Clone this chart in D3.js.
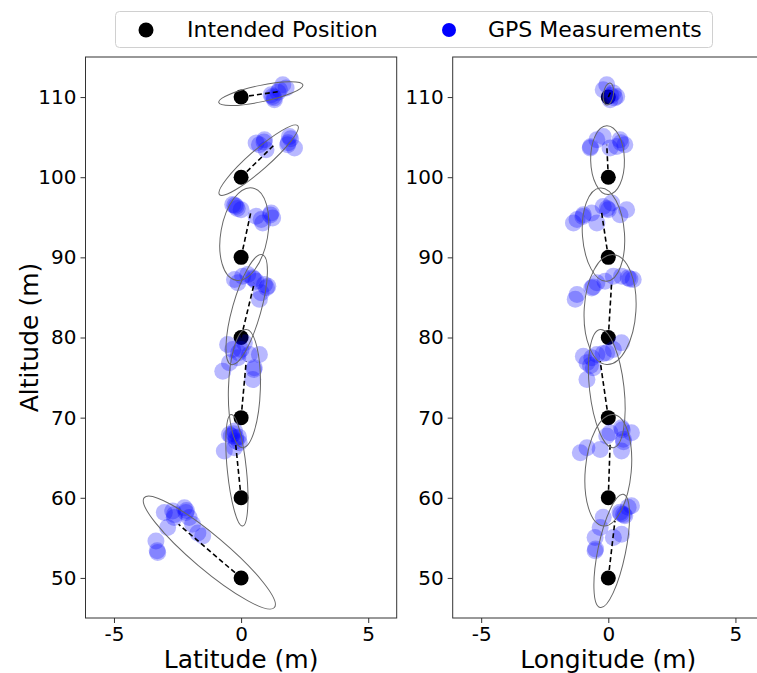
<!DOCTYPE html>
<html>
<head>
<meta charset="utf-8">
<script src="https://cdn.jsdelivr.net/npm/d3@7"></script>
<style>
  body { margin: 0; background: #fff; }
  text { font-family: "DejaVu Sans", sans-serif; }
</style>
</head>
<body>
<div id="chart-area"></div>
<script>
const WIDTH = 757;
const HEIGHT = 673;

// intended waypoints (same for both panels)
const altitudes = [50, 60, 70, 80, 90, 100, 110];
const intendedOffset = [0, 0, 0, 0, 0, 0, 0];

// GPS measurements, one list per waypoint: [horizontal offset, altitude]
const latGps = [
  [[-2.69,58.35],[-2.63,57.53],[-2.17,58.15],[-2.04,57.53],[-1.91,56.69],[-1.51,55.23],[-2.89,56.28],[-3.35,54.61],[-3.28,53.16],[-2.23,58.77],[-3.02,58.15],[-2.62,57.9],[-2.15,58.4],[-3.3,53.4],[-1.7,55.6]],
  [[-0.46,67.91],[-0.26,68.32],[-0.2,67.5],[-0.66,65.83],[-0.26,66.25],[-0.07,66.87],[-0.39,67.7],[-0.2,67.1],[-0.3,68.0],[-0.1,67.6]],
  [[-0.53,79.13],[-0.33,78.5],[0,78.5],[0.33,77.88],[0.72,77.88],[-0.46,76.85],[-0.72,75.8],[0.52,76.22],[0.46,74.76],[0.13,79.34],[-0.13,77.47],[0.5,76.0],[-0.1,78.1]],
  [[-0.26,87.23],[0.06,87.64],[0.46,87.44],[0.59,87.02],[1.05,86.39],[0.79,85.57],[0.72,84.77],[0.26,87.85],[-0.13,86.82],[0.92,86.6],[0.5,87.3],[1.0,86.2]],
  [[-0.2,96.36],[0,95.95],[-0.33,96.58],[1.18,95.54],[1.24,94.92],[0.85,94.29],[0.59,95.12],[0.79,94.71],[-0.15,96.1],[-0.25,96.5],[1.15,95.3]],
  [[0.92,104.68],[0.72,104.05],[0.98,103.43],[1.9,105.09],[1.83,104.05],[2.1,103.64],[0.59,104.27],[0.9,104.4],[1.95,104.8],[1.85,104.3]],
  [[1.64,111.53],[1.51,110.91],[1.24,110.07],[1.31,109.66],[1.77,111.12],[1.18,110.29],[1.3,109.9],[1.45,110.6]]
];
const lonGps = [
  [[-0.2,57.57],[0.46,58.19],[0.78,58.81],[0.91,59.02],[-0.52,55.05],[-0.52,53.38],[0.52,55.46],[0.2,55.05],[0.65,57.75],[-0.32,56.3],[0.5,58.0],[0.6,57.9],[-0.5,53.6]],
  [[0.07,68.12],[0.52,68.74],[0.91,68.12],[-1.1,65.63],[-0.32,66.04],[0.59,67.29],[0.52,65.83],[-0.06,67.7],[-0.84,66.25],[0.55,68.5],[0.6,67.0]],
  [[-0.98,77.67],[-0.84,76.85],[-0.59,76.22],[-0.84,74.76],[-0.06,78.09],[0.2,78.5],[0.52,79.34],[-0.45,77.88],[-0.65,77.47],[-0.7,76.5],[-0.2,78.0]],
  [[-0.65,86.19],[-0.45,86.82],[0.2,87.64],[0.78,87.44],[0.98,87.23],[-1.23,85.36],[-0.13,87.02],[0.52,87.64],[-1.3,84.77],[0.85,87.3],[-0.6,86.3]],
  [[-0.98,95.33],[-1.23,94.71],[-0.2,96.36],[0,95.95],[0.72,95.95],[-0.45,94.29],[-1.37,94.29],[0.13,96.79],[-0.65,95.54],[0.46,95.33],[-0.05,96.1],[-1.0,95.1]],
  [[-0.71,103.64],[-0.2,105.09],[0.46,104.68],[0.33,103.84],[-0.45,104.68],[0.65,104.05],[0.07,103.64],[0.5,104.3],[-0.7,103.8]],
  [[-0.2,110.91],[0.2,110.5],[0.07,109.66],[0.33,110.07],[-0.06,111.53],[0.1,110.2],[0.25,109.9]]
];

// mean of each GPS cluster (end of the dashed line)
const latMean = [[-2.46,56.7],[-0.22,66.87],[0.2,77.0],[0.52,86.8],[0.39,95.74],[1.35,104.18],[1.51,110.7]];
const lonMean = [[0.26,57.1],[0.07,66.66],[-0.32,77.04],[0.13,86.82],[-0.26,95.54],[-0.06,104.05],[0.1,110.7]];

// error ellipses: ends of the major axis and minor/major ratio
const latEllipse = [
  {p1: [-3.81,60.02], p2: [1.31,46.31], ratio: 0.2},
  {p1: [-0.39,70.4], p2: [0.06,56.48], ratio: 0.17},
  {p1: [0.2,81.0], p2: [0.06,66.25], ratio: 0.27},
  {p1: [0.83,90.34], p2: [-0.39,76.63], ratio: 0.25},
  {p1: [0.45,98.66], p2: [-0.2,87.14], ratio: 0.5},
  {p1: [-0.85,97.83], p2: [2.23,106.42], ratio: 0.19},
  {p1: [-0.88,109.33], p2: [2.43,111.53], ratio: 0.19}
];
const lonEllipse = [
  {p1: [0.59,60.43], p2: [-0.32,46.31], ratio: 0.24},
  {p1: [0.2,70.4], p2: [-0.2,56.48], ratio: 0.41},
  {p1: [-0.32,81.0], p2: [0.2,66.25], ratio: 0.29},
  {p1: [0.2,90.34], p2: [-0.06,76.63], ratio: 0.47},
  {p1: [-0.32,98.66], p2: [-0.06,87.02], ratio: 0.45},
  {p1: [-0.06,106.42], p2: [0,97.83], ratio: 0.49},
  {p1: [0.07,111.75], p2: [-0.06,109.0], ratio: 0.45}
];

const xTicks = [-5, 0, 5];
const yTicks = [50, 60, 70, 80, 90, 100, 110];

const PLOT_TOP = 57;
const PLOT_BOTTOM = 618;

const svg = d3.select('#chart-area')
  .append('svg')
  .attr('width', WIDTH)
  .attr('height', HEIGHT);

const yScale = d3.scaleLinear().domain([45, 115]).range([PLOT_BOTTOM, PLOT_TOP]);

function drawPanel(left, right, gps, means, ellipses, label) {
  const xScale = d3.scaleLinear().domain([-6.12, 6.12]).range([left, right]);
  const g = svg.append('g');

  // frame
  g.append('rect')
    .attr('x', left)
    .attr('y', PLOT_TOP)
    .attr('width', right - left)
    .attr('height', PLOT_BOTTOM - PLOT_TOP)
    .attr('fill', 'none')
    .attr('stroke', '#333')
    .attr('stroke-width', 1);

  // axes
  const xAxis = g.append('g')
    .attr('transform', `translate(0, ${PLOT_BOTTOM})`)
    .call(d3.axisBottom(xScale).tickValues(xTicks).tickSize(5).tickPadding(4).tickSizeOuter(0).tickFormat(d => d));
  xAxis.select('.domain').remove();
  xAxis.selectAll('text').attr('font-size', '20px').attr('fill', '#000');
  xAxis.selectAll('line').attr('stroke', '#333');

  const yAxis = g.append('g')
    .attr('transform', `translate(${left}, 0)`)
    .call(d3.axisLeft(yScale).tickValues(yTicks).tickSize(5).tickPadding(4).tickSizeOuter(0));
  yAxis.select('.domain').remove();
  yAxis.selectAll('text').attr('font-size', '20px').attr('fill', '#000');
  yAxis.selectAll('line').attr('stroke', '#333');

  g.append('text')
    .attr('x', xScale(0))
    .attr('y', 668)
    .attr('font-size', '25px')
    .attr('text-anchor', 'middle')
    .text(label);

  // intended positions
  g.selectAll('circle.intended')
    .data(altitudes)
    .enter()
    .append('circle')
    .attr('class', 'intended')
    .attr('cx', (d, i) => xScale(intendedOffset[i]))
    .attr('cy', d => yScale(d))
    .attr('r', 7.5)
    .attr('fill', '#000');

  // GPS measurements
  g.selectAll('circle.gps')
    .data(gps.flat())
    .enter()
    .append('circle')
    .attr('class', 'gps')
    .attr('cx', d => xScale(d[0]))
    .attr('cy', d => yScale(d[1]))
    .attr('r', 8.5)
    .attr('fill', '#0000ff')
    .attr('fill-opacity', 0.28);

  // dashed link intended -> mean
  g.selectAll('line.link')
    .data(means)
    .enter()
    .append('line')
    .attr('class', 'link')
    .attr('x1', (d, i) => xScale(intendedOffset[i]))
    .attr('y1', (d, i) => yScale(altitudes[i]))
    .attr('x2', d => xScale(d[0]))
    .attr('y2', d => yScale(d[1]))
    .attr('stroke', '#000')
    .attr('stroke-width', 1.6)
    .attr('stroke-dasharray', '5,3');

  // error ellipses
  g.selectAll('ellipse.err')
    .data(ellipses)
    .enter()
    .append('ellipse')
    .attr('class', 'err')
    .each(function(d) {
      const x1 = xScale(d.p1[0]), y1 = yScale(d.p1[1]);
      const x2 = xScale(d.p2[0]), y2 = yScale(d.p2[1]);
      const a = Math.hypot(x2 - x1, y2 - y1) / 2;
      const ang = Math.atan2(y2 - y1, x2 - x1) * 180 / Math.PI;
      d3.select(this)
        .attr('cx', 0).attr('cy', 0)
        .attr('rx', a).attr('ry', a * d.ratio)
        .attr('transform', `translate(${(x1 + x2) / 2}, ${(y1 + y2) / 2}) rotate(${ang})`);
    })
    .attr('fill', 'none')
    .attr('stroke', '#666')
    .attr('stroke-width', 1);
}

drawPanel(85.5, 396.7, latGps, latMean, latEllipse, 'Latitude (m)');
drawPanel(452.7, 763.9, lonGps, lonMean, lonEllipse, 'Longitude (m)');

// y label
svg.append('text')
  .attr('transform', `translate(38, ${(PLOT_TOP + PLOT_BOTTOM) / 2}) rotate(-90)`)
  .attr('font-size', '25px')
  .attr('text-anchor', 'middle')
  .text('Altitude (m)');

// legend
const legend = svg.append('g');
legend.append('rect')
  .attr('x', 115.5).attr('y', 11.5)
  .attr('width', 597).attr('height', 36)
  .attr('rx', 4)
  .attr('fill', '#fff')
  .attr('stroke', '#d0d0d0');
legend.append('circle').attr('cx', 146).attr('cy', 30).attr('r', 7.5).attr('fill', '#000');
legend.append('text').attr('x', 187).attr('y', 37).attr('font-size', '22px').text('Intended Position');
legend.append('circle').attr('cx', 449).attr('cy', 30).attr('r', 7).attr('fill', '#0000ff');
legend.append('text').attr('x', 488).attr('y', 37).attr('font-size', '22px').text('GPS Measurements');
</script>
</body>
</html>
